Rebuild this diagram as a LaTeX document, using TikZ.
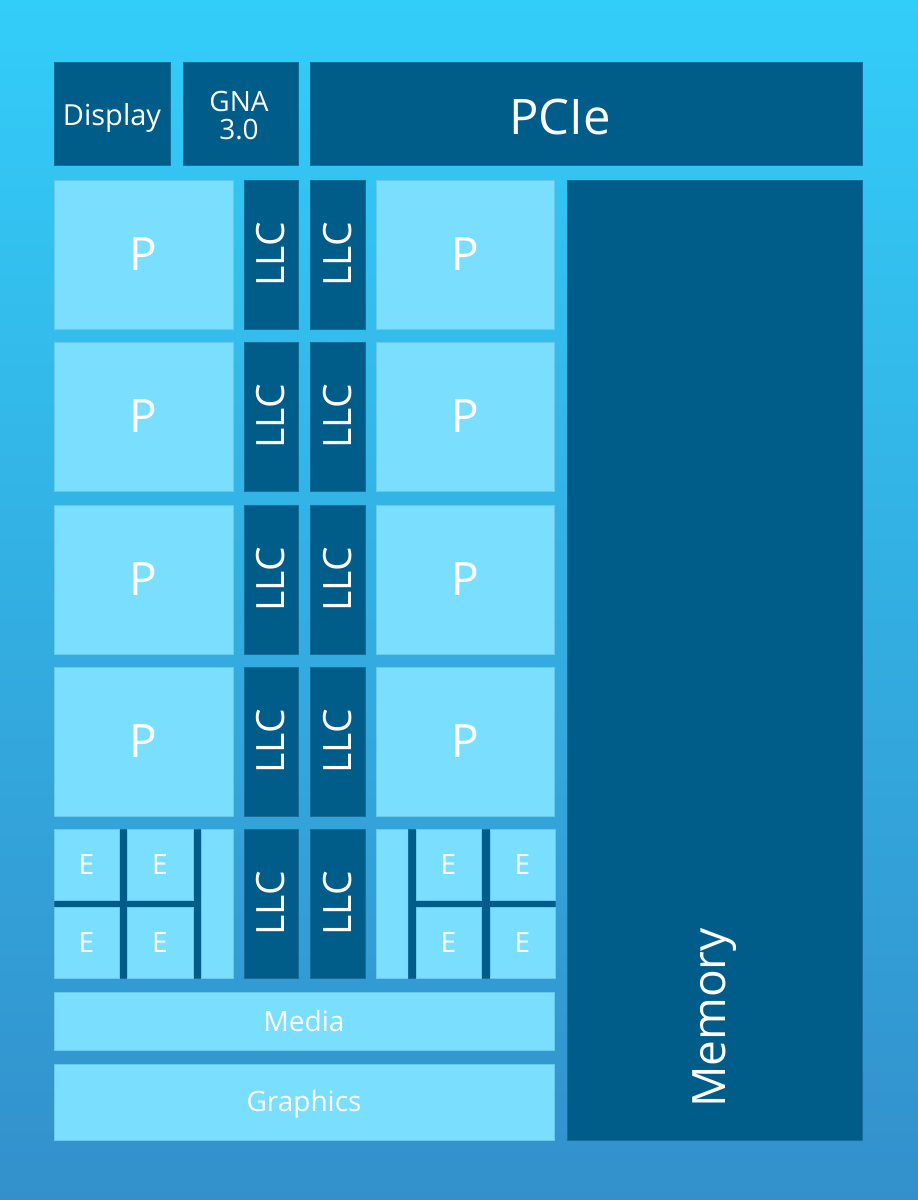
\documentclass[tikz,border=0pt]{standalone}
\usepackage{fontspec}
\setmainfont{Open Sans}
\definecolor{bgtop}{RGB}{51,205,249}
\definecolor{bgbot}{RGB}{51,144,203}
\definecolor{darkb}{RGB}{0,92,136}
\definecolor{darkedge}{RGB}{24,110,155}
\definecolor{lightb}{RGB}{122,222,255}
\definecolor{lightedge}{RGB}{104,200,236}
\begin{document}
\begin{tikzpicture}[x=1pt,y=-1pt,
  blk/.style={anchor=north west, inner sep=0pt, outer sep=0pt, text=white, line width=0.8pt},
  dk/.style={blk, fill=darkb, draw=darkedge},
  lt/.style={blk, fill=lightb, draw=lightedge},
  sz/.style 2 args={minimum width=#1pt, minimum height=#2pt},
  big/.style={font=\fontsize{46}{50}\selectfont},
  mid/.style={font=\fontsize{28}{31}\selectfont},
  llc/.style={font=\fontsize{39}{42}\selectfont, rotate=90},
  ]
\shade[top color=bgtop, bottom color=bgbot] (0,0) rectangle (918,1200);
\useasboundingbox (0,0) rectangle (918,1200);
% top row
\node[dk, sz={116}{103}] (disp) at (54,62) {};
\node[text=white, font=\fontsize{29}{32}\selectfont] (dispt) at (112,118) {Display};
\node[dk, sz={115}{103}] (gna) at (183,62) {};
\node[text=white, font=\fontsize{28}{31}\selectfont, align=center] (gnat) at (239,116) {GNA\\[-3pt]3.0};
\node[dk, sz={552}{103}] (pcie) at (310,62) {};
\node[text=white, font=\fontsize{49}{52}\selectfont] (pciet) at (560,117) {PCIe};
% P rows
\foreach \i/\y in {1/180,2/342,3/505,4/667}{
  \node[lt, sz={179}{149}, big] (pl\i) at (54,\y) {P};
  \node[dk, sz={54}{149}] (la\i) at (244,\y) {};
  \node[llc, text=white] (lat\i) at (la\i.center) {LLC};
  \node[dk, sz={55}{149}] (lb\i) at (310,\y) {};
  \node[llc, text=white] (lbt\i) at (lb\i.center) {LLC};
  \node[lt, sz={178}{149}, big] (pr\i) at (376,\y) {P};
}
% E row
\node[dk, sz={147}{149}] (ecl) at (54,829) {};
\node[lt, sz={65}{71}, mid] (e1) at (54,829) {E};
\node[lt, sz={66}{71}, mid] (e2) at (127,829) {E};
\node[lt, sz={65}{71}, mid] (e3) at (54,907) {E};
\node[lt, sz={66}{71}, mid] (e4) at (127,907) {E};
\node[lt, sz={32}{149}] (sl) at (201,829) {};
\node[dk, sz={54}{149}] (la5) at (244,829) {};
\node[llc, text=white] (lat5) at (la5.center) {LLC};
\node[dk, sz={55}{149}] (lb5) at (310,829) {};
\node[llc, text=white] (lbt5) at (lb5.center) {LLC};
\node[lt, sz={32}{149}] (sr) at (376,829) {};
\node[dk, sz={147}{149}] (ecr) at (408,829) {};
\node[lt, sz={65}{71}, mid] (e5) at (416,829) {E};
\node[lt, sz={65}{71}, mid] (e6) at (490,829) {E};
\node[lt, sz={65}{71}, mid] (e7) at (416,907) {E};
\node[lt, sz={65}{71}, mid] (e8) at (490,907) {E};
% bottom
\node[lt, sz={500}{58}, mid] (media) at (54,992) {Media};
\node[lt, sz={500}{76}] (gfx) at (54,1064) {};
\node[text=white, font=\fontsize{28}{31}\selectfont] (gfxt) at (304,1104) {Graphics};
\node[dk, sz={295}{960}] (mem) at (567,180) {};
\node[big, text=white, rotate=90] (memt) at (715,1018) {Memory};
\end{tikzpicture}
\end{document}
